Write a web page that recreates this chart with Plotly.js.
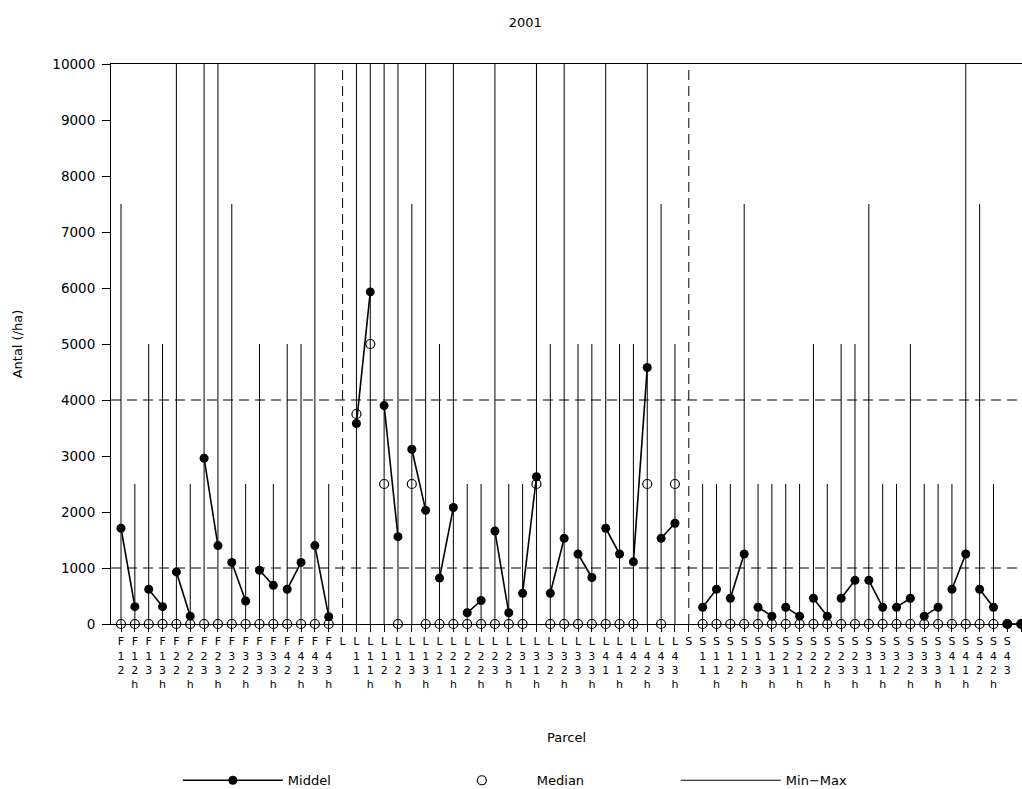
<!DOCTYPE html>
<html>
<head>
<meta charset="utf-8">
<script src="https://cdn.plot.ly/plotly-3.0.1.min.js"></script>
<style>html,body{margin:0;padding:0;background:#fff;}#chart{width:1022px;height:789px;}</style>
</head>
<body>
<div id="chart"></div>
<script>
// Parcel codes (lone letters mark the start of each group)
const parcels = [
  'F12','F12h','F13','F13h','F22','F22h','F23','F23h','F32','F32h','F33','F33h','F42','F42h','F43','F43h',
  'L',
  'L11','L11h','L12','L12h','L13','L13h','L21','L21h','L22','L22h','L23','L23h',
  'L31','L31h','L32','L32h','L33','L33h','L41','L41h','L42','L42h','L43','L43h',
  'S',
  'S11','S11h','S12','S12h','S13','S13h','S21','S21h','S22','S22h','S23','S23h',
  'S31','S31h','S32','S32h','S33','S33h','S41','S41h','S42','S42h','S43','S43h'
];

// Middel (mean)
const meanVals = [
  1710,310,620,310,930,140,2960,1400,1100,410,960,690,620,1100,1400,130,
  null,
  3580,5930,3900,1560,3120,2030,820,2080,200,420,1660,200,
  550,2630,550,1530,1250,830,1710,1250,1110,4580,1530,1800,
  null,
  300,620,460,1250,300,140,300,140,460,140,460,780,
  780,300,300,460,140,300,620,1250,620,300,0,0
];

// Median
const medianVals = [
  0,0,0,0,0,0,0,0,0,0,0,0,0,0,0,0,
  null,
  3750,5000,2500,0,2500,0,0,0,0,0,0,0,
  0,2500,0,0,0,0,0,0,0,2500,0,2500,
  null,
  0,0,0,0,0,0,0,0,0,0,0,0,
  0,0,0,0,0,0,0,0,0,0,0,0
];

// Min and Max
const minVals = [
  0,0,0,0,0,0,0,0,0,0,0,0,0,0,0,0,
  null,
  0,0,0,0,0,0,0,0,0,0,0,0,
  0,0,0,0,0,0,0,0,0,0,0,0,
  null,
  0,0,0,0,0,0,0,0,0,0,0,0,
  0,0,0,0,0,0,0,0,0,0,0,0
];
const maxVals = [
  7500,2500,5000,5000,10000,2500,10000,10000,7500,2500,5000,2500,5000,5000,10000,2500,
  null,
  10000,10000,10000,10000,7500,10000,5000,10000,2500,2500,10000,2500,
  2500,10000,5000,10000,5000,5000,10000,5000,5000,10000,7500,5000,
  null,
  2500,2500,2500,7500,2500,2500,2500,2500,5000,2500,5000,5000,
  7500,2500,2500,5000,2500,2500,2500,10000,7500,2500,0,0
];

// y-axis ticks
const yTickVals = [0,1000,2000,3000,4000,5000,6000,7000,8000,9000,10000];
const yTickText = ['0','1000','2000','3000','4000','5000','6000','7000','8000','9000','10000'];

const tickLabels = parcels.map(p => p.split('').join('<br>'));
const idx = parcels.map((p, i) => i);

// mean line: each parcel joined with its "h" partner
const mx = [], my = [];
parcels.forEach((p, i) => {
  if (meanVals[i] === null) return;
  mx.push(i); my.push(meanVals[i]);
  if (p.endsWith('h')) { mx.push(null); my.push(null); }
});

// min-max vertical segments
const rx = [], ry = [];
parcels.forEach((p, i) => {
  if (maxVals[i] === null || maxVals[i] === minVals[i]) return;
  rx.push(i, i, null); ry.push(minVals[i], maxVals[i], null);
});

const font = {family: 'DejaVu Sans, Liberation Sans, sans-serif', color: '#000'};

const traces = [
  {
    name: 'Min\u2212Max', x: rx, y: ry, type: 'scatter', mode: 'lines',
    line: {color: '#000', width: 1}, legendrank: 3, hoverinfo: 'skip'
  },
  {
    name: 'Median', x: idx, y: medianVals, type: 'scatter', mode: 'markers',
    marker: {symbol: 'circle-open', size: 9, color: '#000', line: {width: 1.2, color: '#000'}},
    cliponaxis: false, legendrank: 2
  },
  {
    name: 'Middel', x: mx, y: my, type: 'scatter', mode: 'lines+markers',
    line: {color: '#000', width: 1.6}, connectgaps: false,
    marker: {symbol: 'circle', size: 9, color: '#000'},
    cliponaxis: false, legendrank: 1
  }
];

const iL = parcels.indexOf('L'), iS = parcels.indexOf('S');
const dash = '10px,6px';
const shapes = [
  {type: 'line', xref: 'x', yref: 'y', x0: iL, x1: iL, y0: 0, y1: 10000, line: {color: '#000', width: 1, dash: dash}},
  {type: 'line', xref: 'x', yref: 'y', x0: iS, x1: iS, y0: 0, y1: 10000, line: {color: '#000', width: 1, dash: dash}},
  {type: 'line', xref: 'paper', yref: 'y', x0: 0, x1: 1, y0: 1000, y1: 1000, line: {color: '#000', width: 1, dash: dash}},
  {type: 'line', xref: 'paper', yref: 'y', x0: 0, x1: 1, y0: 4000, y1: 4000, line: {color: '#000', width: 1, dash: dash}}
];

const layout = {
  width: 1022, height: 789,
  margin: {l: 111, r: 0, t: 64, b: 165},
  paper_bgcolor: '#fff', plot_bgcolor: '#fff',
  font: Object.assign({size: 13}, font),
  title: {text: '2001', font: Object.assign({size: 13}, font), x: 0.514, xref: 'container', xanchor: 'center', y: 0.972, yanchor: 'middle'},
  showlegend: true,
  legend: {
    orientation: 'h', xref: 'container', yref: 'container',
    x: 0.174, xanchor: 'left', y: 0.011, yanchor: 'middle',
    itemwidth: 100, entrywidth: 134, font: Object.assign({size: 13}, font),
    traceorder: 'normal', bgcolor: 'rgba(0,0,0,0)'
  },
  xaxis: {
    range: [-0.722, 65.06], tickmode: 'array', tickvals: idx, ticktext: tickLabels,
    showline: true, linecolor: '#000', linewidth: 1, mirror: true,
    ticks: 'outside', ticklen: 7, tickcolor: '#000', tickangle: 0,
    showgrid: false, zeroline: false,
    tickfont: Object.assign({size: 11}, font),
    title: {text: 'Parcel', font: Object.assign({size: 13}, font), standoff: 42},
    automargin: false
  },
  yaxis: {
    range: [0, 10000], tickmode: 'array', tickvals: yTickVals, ticktext: yTickText,
    showline: true, linecolor: '#000', linewidth: 1,
    ticks: 'outside', ticklen: 8, tickcolor: '#000', ticklabelstandoff: 4,
    showgrid: false, zeroline: false,
    tickfont: Object.assign({size: 13.5}, font),
    title: {text: 'Antal (/ha)', font: Object.assign({size: 13}, font), standoff: 26},
    automargin: false
  },
  shapes: shapes
};

Plotly.newPlot('chart', traces, layout, {displayModeBar: false, staticPlot: true});
</script>
</body>
</html>
